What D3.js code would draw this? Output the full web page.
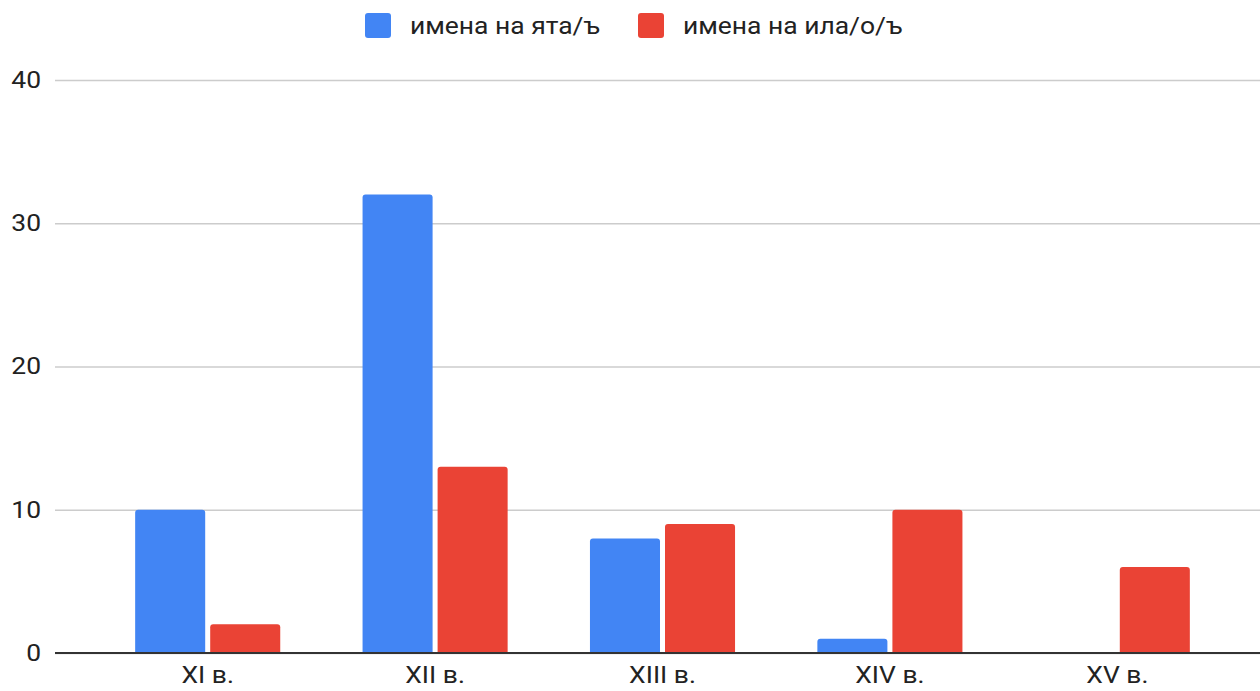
<!DOCTYPE html>
<html>
<head>
<meta charset="utf-8">
<script src="https://cdn.jsdelivr.net/npm/d3@7"></script>
<style>
  html, body { margin: 0; padding: 0; background: #fff; }
  svg { display: block; }
  text { font-family: Roboto, "Noto Sans", Arial, sans-serif; fill: #222; }
</style>
</head>
<body>
<svg id="chart" width="1260" height="691"></svg>
<script>
const categories = ["XI в.", "XII в.", "XIII в.", "XIV в.", "XV в."];
const seriesNames = ["имена на ята/ъ", "имена на ила/о/ъ"];
const seriesYata = [10, 32, 8, 1, 0];
const seriesIla = [2, 13, 9, 10, 6];
const yTicks = [0, 10, 20, 30, 40];
const colors = ["#4285F4", "#EA4335"];

const svg = d3.select("#chart");
const W = 1260, H = 691;
const plot = { left: 55, right: 1260, top: 80, bottom: 653 };

const y = d3.scaleLinear().domain([0, 40]).range([plot.bottom, plot.top]);
const x0 = d3.scaleBand().domain(categories).range([94, 1231]).paddingInner(0.362).paddingOuter(0.181);
const x1 = d3.scaleBand().domain(seriesNames).range([0, x0.bandwidth()]).paddingInner(0.0667);

const sx = 1.15; // horizontal text stretch

// gridlines
const yAxis = d3.axisLeft(y).tickValues(yTicks).tickSize(-(plot.right - plot.left)).tickPadding(14).tickFormat(d3.format("d"));
const gy = svg.append("g").attr("transform", `translate(${plot.left},0)`).call(yAxis);
gy.select(".domain").remove();
gy.selectAll(".tick line").attr("stroke", "#cccccc").attr("stroke-width", 1.5);
gy.selectAll(".tick text").attr("font-size", 23).attr("fill", "#222")
  .attr("text-anchor", "end")
  .each(function() {
    const t = d3.select(this);
    const xx = +t.attr("x");
    t.attr("x", null).attr("transform", `translate(${xx},0) scale(${sx},1)`);
  });

// bars
const data = categories.map((c, i) => ({ cat: c, vals: [seriesYata[i], seriesIla[i]] }));
const r = 3;
function barPath(xl, w, yt, yb) {
  const h = yb - yt;
  if (h <= 0) return "";
  const rr = Math.min(r, h, w / 2);
  return `M${xl},${yb}V${yt + rr}Q${xl},${yt} ${xl + rr},${yt}H${xl + w - rr}Q${xl + w},${yt} ${xl + w},${yt + rr}V${yb}Z`;
}
const groups = svg.append("g").selectAll("g").data(data).join("g")
  .attr("transform", d => `translate(${x0(d.cat)},0)`);
groups.selectAll("path").data(d => d.vals.map((v, j) => ({ v, s: seriesNames[j], j })))
  .join("path")
  .attr("d", d => barPath(x1(d.s), x1.bandwidth(), y(d.v), y(0)))
  .attr("fill", d => colors[d.j]);

// x axis
const xAxis = d3.axisBottom(x0).tickSize(0).tickPadding(14);
const gx = svg.append("g").attr("transform", `translate(0,${plot.bottom})`).call(xAxis);
gx.select(".domain").remove();
svg.append("line").attr("x1", plot.left).attr("x2", plot.right).attr("y1", plot.bottom).attr("y2", plot.bottom)
  .attr("stroke", "#333").attr("stroke-width", 2);
gx.selectAll(".tick text").attr("font-size", 23).attr("fill", "#222")
  .each(function() {
    const t = d3.select(this);
    const yy = +t.attr("y");
    t.attr("y", null).attr("dy", "0.71em").attr("transform", `translate(0,${yy}) scale(${sx},1)`);
  });

// legend
const legendItems = [
  { name: seriesNames[0], color: colors[0], x: 365 },
  { name: seriesNames[1], color: colors[1], x: 638 }
];
const lg = svg.append("g").selectAll("g").data(legendItems).join("g")
  .attr("transform", d => `translate(${d.x},13)`);
lg.append("rect").attr("width", 26).attr("height", 25).attr("rx", 3).attr("fill", d => d.color);
lg.append("text").attr("transform", `translate(45,13) scale(${sx},1)`).attr("dy", "0.35em")
  .attr("font-size", 23).attr("fill", "#222").text(d => d.name);
</script>
</body>
</html>
